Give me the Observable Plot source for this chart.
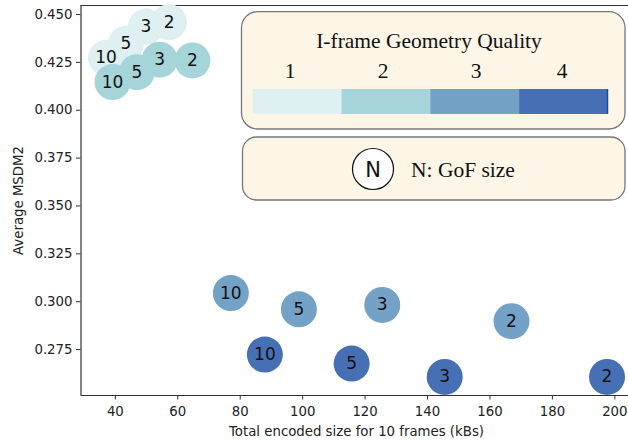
<!DOCTYPE html>
<html><head><meta charset="utf-8">
<script src="https://cdn.jsdelivr.net/npm/d3@7"></script>
<script src="https://cdn.jsdelivr.net/npm/@observablehq/plot@0.6"></script>
<style>
html,body{margin:0;padding:0;overflow:hidden;background:#fff}
#chart{position:relative;width:628px;height:442px;overflow:hidden}
#chart svg{max-width:none !important;width:634px !important;height:442px !important;display:block}
</style>
</head><body><div id="chart"></div>
<script>
// ---- data ----
const qualities = [1, 2, 3, 4];
const qualityColors = ["#dff0f2", "#a5d5d8", "#73a2c6", "#476fb3"];
const gofSizes = [2, 3, 5, 10];
const q1X = [57.2, 49.8, 43.4, 37.0];
const q1Y = [0.446, 0.4437, 0.4347, 0.4274];
const q2X = [64.7, 54.2, 46.9, 39.1];
const q2Y = [0.426, 0.4264, 0.4199, 0.4147];
const q3X = [166.9, 125.5, 98.8, 77.0];
const q3Y = [0.2898, 0.2983, 0.296, 0.3045];
const q4X = [197.5, 145.5, 115.7, 87.9];
const q4Y = [0.2607, 0.2607, 0.2677, 0.2724];
const xTicks = [40, 60, 80, 100, 120, 140, 160, 180, 200];
const yTicks = [0.275, 0.300, 0.325, 0.350, 0.375, 0.400, 0.425, 0.450];
const xLabel = "Total encoded size for 10 frames (kBs)";
const yLabel = "Average MSDM2";
const legendTitle = "I-frame Geometry Quality";
const sizeLegendSymbol = "N";
const sizeLegendText = "N: GoF size";

const allX = [q1X, q2X, q3X, q4X];
const allY = [q1Y, q2Y, q3Y, q4Y];
const data = [];
qualities.forEach((q, i) => gofSizes.forEach((g, j) =>
  data.push({quality: q, gof: g, x: allX[i][j], y: allY[i][j]})));

const xDomain = [29, 205.5];
const yDomain = [0.251, 0.4547];

const plot = Plot.plot({
  width: 634, height: 442,
  marginLeft: 80.5, marginRight: 2.5, marginTop: 5, marginBottom: 47,
  x: {domain: xDomain},
  y: {domain: yDomain},
  color: {type: "ordinal", domain: qualities, range: qualityColors},
  style: {fontFamily: "DejaVu Sans", fontSize: "13.3px", color: "#222", background: "#fff"},
  marks: [
    Plot.axisX({ticks: xTicks, tickSize: 4.5, tickPadding: 7, label: xLabel, labelAnchor: "center",
      labelArrow: "none", labelOffset: 40, stroke: "#333"}),
    Plot.axisY({ticks: yTicks, tickSize: 4.5, tickPadding: 4, tickFormat: d3.format(".3f"), label: yLabel,
      labelAnchor: "center", labelArrow: "none", labelOffset: 67, stroke: "#333"}),
    Plot.ruleY([yDomain[0]], {stroke: "#333", strokeWidth: 1.2}),
    Plot.ruleY([yDomain[1]], {stroke: "#333", strokeWidth: 1.2}),
    Plot.ruleX([xDomain[0]], {stroke: "#333", strokeWidth: 1.2}),
    Plot.dot(data, {x: "x", y: "y", r: 18, fill: "quality", stroke: null, fillOpacity: 1}),
    Plot.text(data, {x: "x", y: "y", text: d => String(d.gof), fontSize: 17, fill: "#111"})
  ]
});
document.getElementById("chart").appendChild(plot);

// ---- legend boxes (drawn into the same svg) ----
const svg = d3.select(plot);
const lg = svg.append("g").attr("font-family", "Liberation Serif").attr("text-anchor", "start");
lg.append("rect").attr("x", 241.5).attr("y", 11.7).attr("width", 383.5).attr("height", 117.3)
  .attr("rx", 16).attr("fill", "#fdf6e6").attr("stroke", "#777").attr("stroke-width", 1.3);
lg.append("text").attr("x", 429).attr("y", 48).attr("text-anchor", "middle")
  .attr("font-size", 21.5).attr("fill", "#111").text(legendTitle);
const barX0 = 252.7, barW = 88.8;
const numX = [290, 383, 476, 562];
qualities.forEach((q, i) => {
  lg.append("rect").attr("x", barX0 + i * barW).attr("y", 89).attr("width", barW + 0.3).attr("height", 25)
    .attr("fill", qualityColors[i]);
  lg.append("text").attr("x", numX[i]).attr("y", 78)
    .attr("text-anchor", "middle").attr("font-size", 21.5).attr("fill", "#111").text(String(q));
});
lg.append("rect").attr("x", barX0 + 4 * barW - 1.2).attr("y", 89).attr("width", 1.4).attr("height", 25).attr("fill", "#1a4d9c");
lg.append("rect").attr("x", 242.5).attr("y", 137).attr("width", 382.5).attr("height", 63)
  .attr("rx", 14).attr("fill", "#fdf6e6").attr("stroke", "#777").attr("stroke-width", 1.3);
lg.append("circle").attr("cx", 373).attr("cy", 169).attr("r", 20.5).attr("fill", "#fff")
  .attr("stroke", "#111").attr("stroke-width", 1.2);
lg.append("text").attr("x", 373).attr("y", 176.5).attr("text-anchor", "middle")
  .attr("font-family", "DejaVu Sans").attr("font-size", 21).attr("fill", "#111").text(sizeLegendSymbol);
lg.append("text").attr("x", 411).attr("y", 176.5).attr("text-anchor", "start")
  .attr("font-size", 21.5).attr("fill", "#111").text(sizeLegendText);
</script>
</body></html>
